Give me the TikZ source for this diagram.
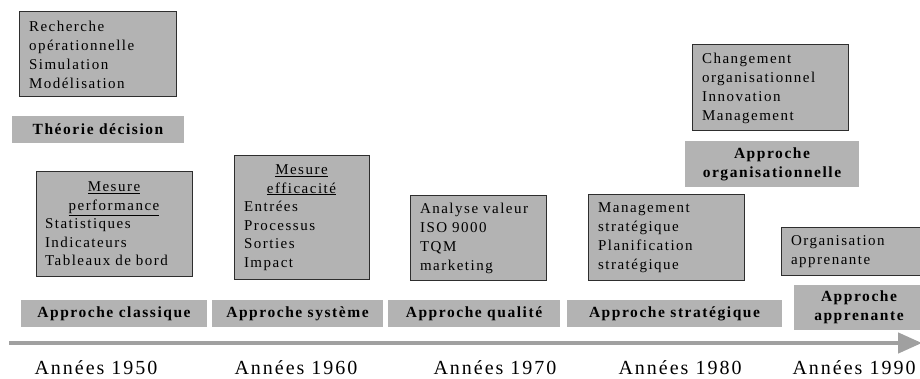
\documentclass[tikz,border=0pt]{standalone}
\usepackage{fontspec}
\setmainfont{Liberation Serif}[LetterSpace=10]
\usetikzlibrary{arrows.meta}
\definecolor{boxgray}{HTML}{B3B3B3}
\definecolor{edgegray}{HTML}{2E2E2E}
\definecolor{axisgray}{HTML}{A0A0A0}
\newcommand{\ctrline}[1]{\makebox[\linewidth][c]{\underline{#1}}}
\begin{document}
\begin{tikzpicture}[x=1pt,y=-1pt,
  bbox/.style={draw=edgegray, line width=1pt, fill=boxgray, inner sep=0pt, align=left, font=\fontsize{15}{19}\selectfont},
  lbl/.style={fill=boxgray, inner sep=0pt, align=center, font=\fontsize{15.5}{19}\selectfont\bfseries},
  yr/.style={inner sep=0pt, font=\fontsize{20}{24}\selectfont}]
\useasboundingbox (0,0) rectangle (920,379);

% 1950s
\node[bbox, minimum width=157pt, minimum height=85pt, text width=137pt] (rech) at (97.5,54.5)
  {Recherche\\opérationnelle\\Simulation\\Modélisation};
\node[lbl, minimum width=172pt, minimum height=27pt] (theo) at (98,129.5) {Théorie décision};
\node[bbox, minimum width=156pt, minimum height=104pt, text width=138pt, font=\fontsize{15}{18.5}\selectfont] (perf) at (114,224)
  {\ctrline{Mesure}\\\ctrline{performance}\\Statistiques\\Indicateurs\\Tableaux de bord};
\node[lbl, minimum width=186pt, minimum height=27pt] (class) at (114,313.5) {Approche classique};

% 1960s
\node[bbox, minimum width=135pt, minimum height=123pt, text width=115pt, font=\fontsize{15}{18.5}\selectfont] (effi) at (301.5,217.5)
  {\ctrline{Mesure}\\\ctrline{efficacité}\\Entrées\\Processus\\Sorties\\Impact};
\node[lbl, minimum width=171pt, minimum height=27pt] (syst) at (297.5,313.5) {Approche système};

% 1970s
\node[bbox, minimum width=136pt, minimum height=84pt, text width=116pt] (anal) at (478,238)
  {Analyse valeur\\ISO 9000\\TQM\\marketing};
\node[lbl, minimum width=172pt, minimum height=27pt] (qual) at (474,313.5) {Approche qualité};

% 1980s
\node[bbox, minimum width=156pt, minimum height=85pt, text width=136pt] (mgmt) at (666,237.5)
  {Management\\stratégique\\Planification\\stratégique};
\node[lbl, minimum width=215pt, minimum height=27pt] (strat) at (674.5,313.5) {Approche stratégique};
\node[bbox, minimum width=156pt, minimum height=86pt, text width=136pt] (chg) at (770,88)
  {Changement\\organisationnel\\Innovation\\Management};
\node[lbl, minimum width=174pt, minimum height=46pt] (orga) at (772,164) {Approche\\organisationnelle};

% 1990s
\node[bbox, minimum width=142pt, minimum height=47pt, text width=122pt] (appr) at (852,251.5)
  {Organisation\\apprenante};
\node[lbl, minimum width=130pt, minimum height=45pt] (apprl) at (859,307) {Approche\\apprenante};

% axis
\coordinate (a0) at (9,343);
\coordinate (a1) at (922,343);
\draw[axisgray, line width=4.5pt, -{Triangle[length=24pt,width=20pt]}] (a0) -- (a1);

% years
\node[yr] (y50) at (96,368) {Années 1950};
\node[yr] (y60) at (296,368) {Années 1960};
\node[yr] (y70) at (495,368) {Années 1970};
\node[yr] (y80) at (680,368) {Années 1980};
\node[yr] (y90) at (854,368) {Années 1990};
\end{tikzpicture}
\end{document}
